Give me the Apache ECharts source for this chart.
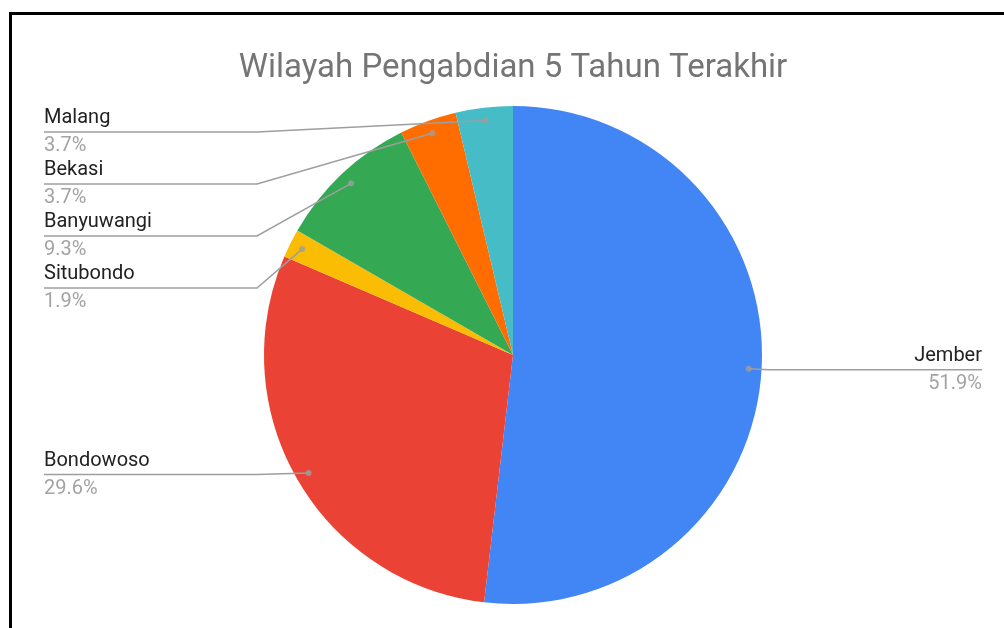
<!DOCTYPE html>
<html>
<head>
<meta charset="utf-8">
<script src="https://cdn.jsdelivr.net/npm/echarts@6/dist/echarts.min.js"></script>
<style>
  html, body { margin: 0; padding: 0; background: #fff; overflow: hidden; }
  #main { position: absolute; left: 0; top: 0; width: 1004px; height: 628px; }
  #frame { position: absolute; left: 9px; top: 12px; width: 1100px; height: 700px;
           border-top: 3px solid #000; border-left: 3px solid #000; pointer-events: none; }
</style>
</head>
<body>
<div id="main"></div>
<div id="frame"></div>
<script>
// data
var categories = ['Jember', 'Bondowoso', 'Situbondo', 'Banyuwangi', 'Bekasi', 'Malang'];
var counts = [28, 16, 1, 5, 2, 2];
var colors = ['#4285F4', '#EA4335', '#FBBC04', '#34A853', '#FF6D01', '#46BDC6'];

// layout
var CX = 513, CY = 355, R = 249;
var DOT_R = 236;          // where the leader lines start
var BOX_LEFT = 34, BOX_RIGHT = 12, BOX_TOP = 106;
var ELBOW_GAP = 7;
var FONT = 'Roboto, "Liberation Sans", Arial, sans-serif';

var total = counts.reduce(function (a, b) { return a + b; }, 0);
var pieData = categories.map(function (c, i) {
    return { name: c, value: counts[i], itemStyle: { color: colors[i] } };
});

// dot at the start of each leader line, mid angle of each slice
var cum = 0;
var dotData = counts.map(function (v) {
    var mid = cum + v / 2;
    cum += v;
    return [DOT_R / R, mid];
});

var myChart = echarts.init(document.getElementById('main'));
var option = {
    animation: false,
    title: {
        text: 'Wilayah Pengabdian 5 Tahun Terakhir',
        left: CX,
        textAlign: 'center',
        top: 52,
        padding: 0,
        textStyle: { fontFamily: FONT, fontSize: 33, fontWeight: 'normal', color: '#757575' }
    },
    polar: { center: [CX, CY], radius: R },
    angleAxis: { type: 'value', min: 0, max: total, startAngle: 90, clockwise: true, show: false },
    radiusAxis: { type: 'value', min: 0, max: 1, show: false },
    series: [
        {
            type: 'pie',
            center: [CX, CY],
            radius: R,
            startAngle: 90,
            silent: true,
            label: { show: false },
            labelLine: { show: false },
            data: pieData,
            z: 1
        },
        {
            // transparent copy that carries the labels
            type: 'pie',
            left: BOX_LEFT,
            right: BOX_RIGHT,
            top: BOX_TOP,
            bottom: 0,
            center: [CX - BOX_LEFT, CY - BOX_TOP],
            radius: DOT_R,
            startAngle: 90,
            silent: true,
            itemStyle: { color: 'transparent' },
            data: categories.map(function (c, i) { return { name: c, value: counts[i] }; }),
            label: {
                position: 'outer',
                alignTo: 'edge',
                edgeDistance: 10,
                minMargin: 4,
                formatter: function (p) {
                    return '{name|' + p.name + '}\n{pct|' + (p.value / total * 100).toFixed(1) + '%}';
                },
                rich: {
                    name: { fontFamily: FONT, fontSize: 20, color: '#222222', lineHeight: 30 },
                    pct: { fontFamily: FONT, fontSize: 20, color: '#a3a3a3', lineHeight: 26 }
                }
            },
            labelLine: {
                length: 1,
                length2: 10,
                lineStyle: { color: '#9e9e9e', width: 1.5 }
            },
            labelLayout: function (params) {
                var pts = params.labelLinePoints;
                if (!pts) return;
                var rect = params.labelRect;
                var isLeft = rect.x < CX;
                var y = rect.y + rect.height / 2;
                var start = pts[0];
                var elbowX = isLeft ? Math.min(start[0], CX - R - ELBOW_GAP)
                                    : Math.max(start[0], CX + R + ELBOW_GAP);
                return {
                    labelLinePoints: [start, [elbowX, y], [isLeft ? rect.x : rect.x + rect.width, y]]
                };
            },
            z: 3
        },
        {
            type: 'scatter',
            coordinateSystem: 'polar',
            symbolSize: 6,
            silent: true,
            itemStyle: { color: '#9e9e9e' },
            data: dotData,
            z: 4
        }
    ]
};
myChart.setOption(option);
</script>
</body>
</html>
